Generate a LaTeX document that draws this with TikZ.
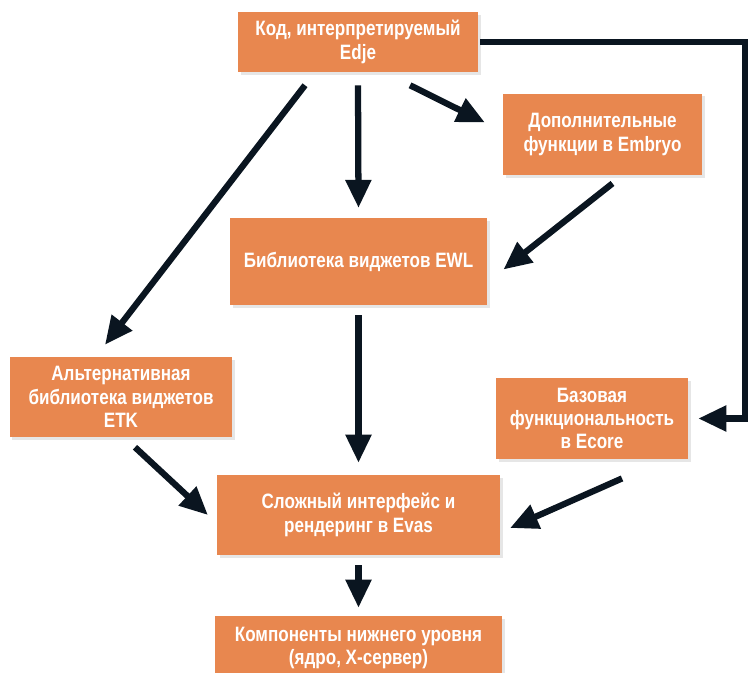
\documentclass[tikz,border=0pt]{standalone}
\usepackage{fontspec}
\setmainfont[FakeStretch=0.82]{Liberation Sans}
\usetikzlibrary{arrows.meta,shadows}
\definecolor{boxorange}{HTML}{E8874F}
\definecolor{arrowink}{HTML}{0A1520}

\begin{document}
\begin{tikzpicture}[
  x=0.75pt, y=-0.75pt,
  box/.style={fill=boxorange,text=white,align=center,inner sep=0pt,
    font=\bfseries\fontsize{15.6}{17.5}\selectfont,
    drop shadow={opacity=0.2,shadow xshift=2pt,shadow yshift=-2pt}},
  link/.style={draw=arrowink,line width=4.7pt,-{Triangle[length=21pt,width=18.5pt]}}
]
  \useasboundingbox (0,0) rectangle (748,673);
  \node (edje) [box,minimum width=180pt,minimum height=45pt] at (358,42) {Код, интерпретируемый\\Edje};
  \node (embryo) [box,minimum width=149pt,minimum height=61pt] at (602.5,134.5) {Дополнительные\\функции в Embryo};
  \node (ewl) [box,minimum width=193pt,minimum height=65pt] at (358.5,261.5) {Библиотека виджетов EWL};
  \node (etk) [box,minimum width=167pt,minimum height=60pt] at (121,397) {Альтернативная\\библиотека виджетов\\ETK};
  \node (ecore) [box,minimum width=144pt,minimum height=61pt] at (592,418.5) {Базовая\\функциональность\\в Ecore};
  \node (evas) [box,minimum width=212pt,minimum height=60pt] at (358.5,515) {Сложный интерфейс и\\рендеринг в Evas};
  \node (low) [box,minimum width=215pt,minimum height=48pt] at (358.5,648) {Компоненты нижнего уровня\\(ядро, X-сервер)};
  % from the top box
  \draw[link] ([shift={(52,13)}]edje.south) -- ([shift={(-18,-12)}]embryo.west);
  \draw[link] ([shift={(0,13)}]edje.south) -- ([shift={(0,-10)}]ewl.north);
  \draw[link] ([shift={(-53,13)}]edje.south) -- ([shift={(-16,-12)}]etk.north);
  \draw[link] ([shift={(2,0)}]edje.east) -- ++(265,0) |- ([shift={(10,0)}]ecore.east);
  % middle level
  \draw[link] ([shift={(10,8)}]embryo.south) -- ([shift={(16,8)}]ewl.east);
  \draw[link] ([shift={(0,10)}]ewl.south) -- ([shift={(0,-12)}]evas.north);
  \draw[link] ([shift={(14,10)}]etk.south) -- ([shift={(-9,0)}]evas.west);
  \draw[link] ([shift={(30,19)}]ecore.south) -- ([shift={(10,13)}]evas.east);
  \draw[link] ([shift={(0,10)}]evas.south) -- ([shift={(0,-8)}]low.north);
\end{tikzpicture}
\end{document}
